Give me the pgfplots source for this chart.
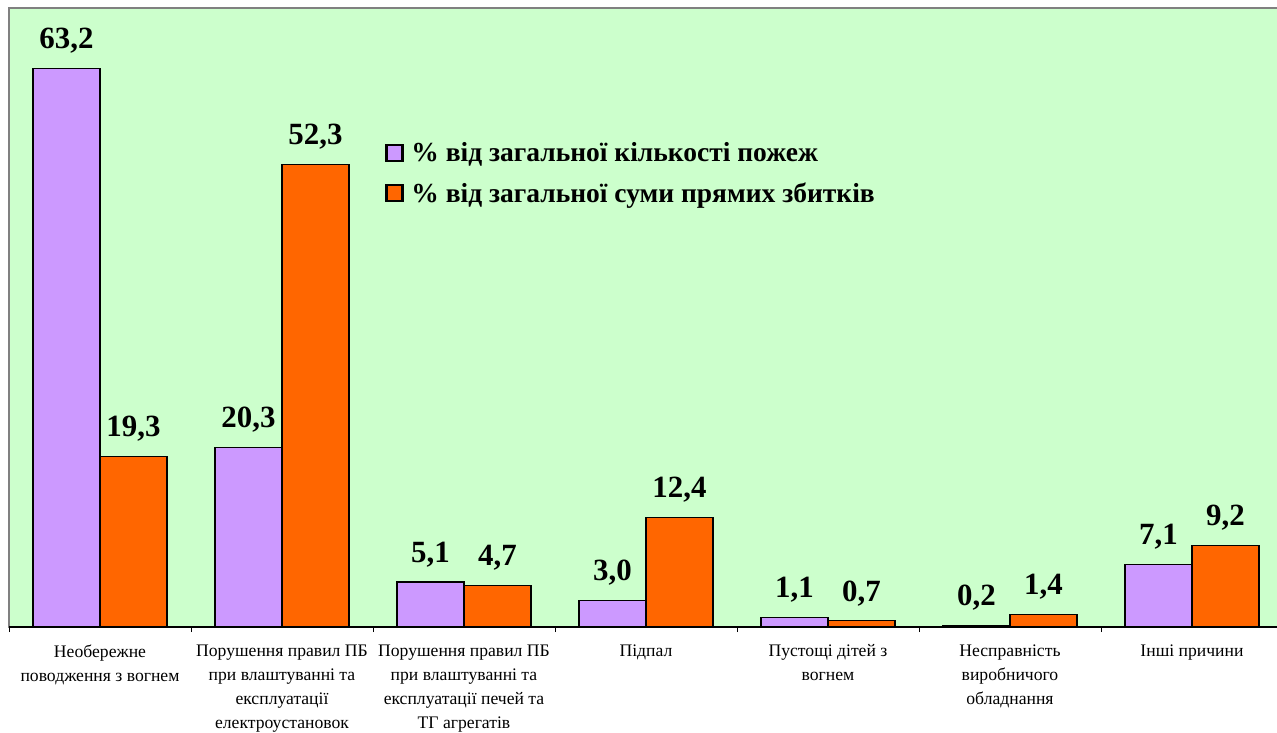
\documentclass[border=0pt]{standalone}
\usepackage{fontspec}
\setmainfont{Liberation Serif}
\usepackage{pgfplots}
\pgfplotsset{compat=1.18}
\definecolor{bggreen}{HTML}{CCFFCC}
\definecolor{lilac}{HTML}{CC99FF}
\definecolor{orng}{HTML}{FF6600}
\begin{document}
\begin{tikzpicture}
\path[use as bounding box] (-9bp,-106bp) rectangle (1268bp,627bp);
\begin{axis}[
  at={(0,0)}, anchor=south west,
  scale only axis, width=1274bp, height=619bp,
  xmin=-0.5, xmax=6.5, ymin=0, ymax=70,
  ybar=0pt, bar width=67bp,
  axis background/.style={fill=bggreen},
  axis line style={draw=gray, line width=1.2bp},
  ytick=\empty,
  xtick pos=bottom,
  xtick={0,...,6},
  xticklabels={{Необережне\\поводження з вогнем},
    {Порушення правил ПБ\\при влаштуванні та\\експлуатації\\електроустановок},
    {Порушення правил ПБ\\при влаштуванні та\\експлуатації печей та\\ТГ агрегатів},
    {Підпал},
    {Пустощі дітей з\\вогнем},
    {Несправність\\виробничого\\обладнання},
    {Інші причини}},
  major x tick style={draw=none},
  minor xtick={-0.5,0.5,...,6.5},
  minor tick length=5bp,
  tick align=outside,
  minor x tick style={black, line width=0.8bp},
  xticklabel style={align=center, anchor=north, yshift=-10bp,
    font=\fontsize{17.7}{24}\selectfont},
  nodes near coords={\pgfmathprintnumber[fixed, fixed zerofill, precision=1, use comma]{\pgfplotspointmeta}},
  /pgf/number format/assume math mode=true,
  every node near coord/.append style={font=\bfseries\fontsize{31}{31}\selectfont, black, yshift=11bp},
  legend style={at={(0.293,0.789)}, anchor=north west, draw=none, fill=none,
    font=\bfseries\fontsize{27.6}{30}\selectfont, row sep=15bp},
  legend cell align=left,
  legend image code/.code={\draw[#1, line width=2.5bp] (1.25bp,-8bp) rectangle (17.25bp,8bp);
    \path[draw=none, fill=none] (0bp,0bp) rectangle (24bp,0.1bp);},
]
\addplot[fill=lilac, draw=black, line width=1.2bp] coordinates {
  (0,63.2) (1,20.3) (2,5.1) (3,3.0) (4,1.1) (5,0.2) (6,7.1)};
\addplot[fill=orng, draw=black, line width=1.2bp] coordinates {
  (0,19.3) (1,52.3) (2,4.7) (3,12.4) (4,0.7) (5,1.4) (6,9.2)};
\legend{\% від загальної кількості пожеж, \% від загальної суми прямих збитків}
\draw[black, line width=1.2bp] (rel axis cs:0,0) -- (rel axis cs:1,0);
\end{axis}
\end{tikzpicture}
\end{document}
